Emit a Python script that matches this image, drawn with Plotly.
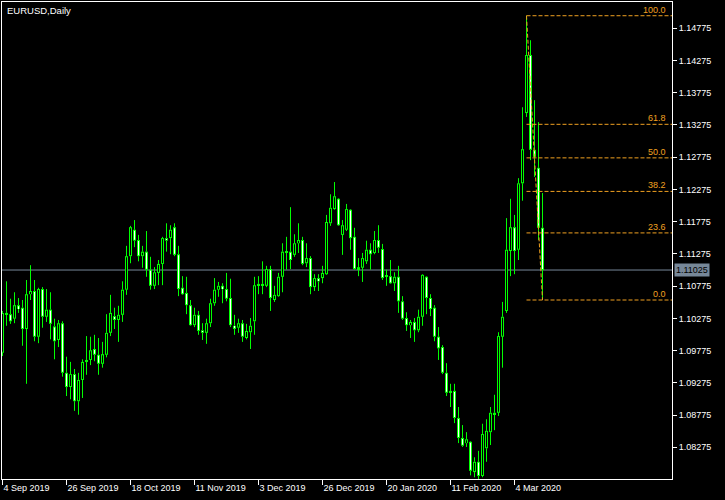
import plotly.graph_objects as go

# ---- data (EURUSD daily) ----
opens = [1.0974,1.1036,1.1034,1.1027,1.1048,1.1044,1.1011,1.1065,1.1070,1.0999,
         1.1073,1.1030,1.1041,1.1015,1.0994,1.1020,1.0943,1.0921,1.0941,1.0899,
         1.0932,1.0960,1.0963,1.0980,1.0971,1.0957,1.0971,1.1005,1.1031,1.1025,
         1.1033,1.1072,1.1124,1.1165,1.1149,1.1124,1.1131,1.1103,1.1078,1.1098,
         1.1112,1.1152,1.1152,1.1169,1.1127,1.1075,1.1067,1.1048,1.1017,1.1033,
         1.1009,1.1005,1.1020,1.1051,1.1072,1.1078,1.1073,1.1059,1.1016,1.1013,
         1.1020,1.0997,1.1006,1.1023,1.1079,1.1081,1.1078,1.1104,1.1056,1.1062,
         1.1092,1.1131,1.1131,1.1126,1.1144,1.1149,1.1113,1.1121,1.1076,1.1090,
         1.1090,1.1096,1.1175,1.1197,1.1213,1.1157,1.1165,1.1196,1.1154,1.1104,
         1.1106,1.1116,1.1134,1.1129,1.1149,1.1135,1.1092,1.1093,1.1082,1.1092,
         1.1054,1.1028,1.1017,1.1022,1.1009,1.1030,1.1092,1.1059,1.1044,1.0999,
         1.0983,1.0943,1.0912,1.0915,1.0873,1.0842,1.0834,1.0836,1.0789,1.0805,
         1.0783,1.0826,1.0851,1.0881,1.0881,1.0999,1.1039,1.1132,1.1169,1.1134,
         1.1237,1.1346,1.1436,1.1289,1.1261,1.1168]
highs = [1.1039,1.1085,1.1058,1.1068,1.1059,1.1056,1.1087,1.1110,1.1087,1.1075,
         1.1076,1.1073,1.1068,1.1027,1.1025,1.1023,1.0968,1.0960,1.0949,1.0943,
         1.0964,1.1000,1.0999,1.1002,1.0997,1.0991,1.1034,1.1064,1.1044,1.1047,
         1.1085,1.1140,1.1171,1.1180,1.1157,1.1140,1.1163,1.1123,1.1107,1.1118,
         1.1154,1.1175,1.1172,1.1175,1.1140,1.1093,1.1092,1.1056,1.1044,1.1039,
         1.1020,1.1027,1.1058,1.1090,1.1084,1.1082,1.1098,1.1089,1.1033,1.1027,
         1.1025,1.1019,1.1028,1.1092,1.1093,1.1116,1.1109,1.1109,1.1078,1.1098,
         1.1144,1.1154,1.1200,1.1158,1.1175,1.1154,1.1144,1.1124,1.1096,1.1096,
         1.1109,1.1188,1.1220,1.1239,1.1214,1.1180,1.1205,1.1197,1.1168,1.1121,
         1.1129,1.1148,1.1144,1.1163,1.1172,1.1143,1.1103,1.1118,1.1099,1.1109,
         1.1062,1.1037,1.1025,1.1028,1.1041,1.1096,1.1093,1.1065,1.1048,1.1014,
         1.0986,1.0958,1.0926,1.0926,1.0890,1.0862,1.0851,1.0837,1.0812,1.0822,
         1.0864,1.0871,1.0890,1.0909,1.1006,1.1053,1.1183,1.1213,1.1188,1.1245,
         1.1355,1.1497,1.1459,1.1366,1.1332,1.1222]
lows = [1.0969,1.1016,1.1019,1.1020,1.1036,1.0985,1.0926,1.1056,1.0992,1.0989,
        1.1013,1.1022,1.0995,1.0964,1.0983,1.0937,1.0907,1.0902,1.0884,1.0878,
        1.0904,1.0940,1.0955,1.0961,1.0940,1.0951,1.0967,1.1000,1.1011,1.0991,
        1.1022,1.1064,1.1113,1.1138,1.1116,1.1106,1.1092,1.1072,1.1073,1.1079,
        1.1079,1.1131,1.1127,1.1124,1.1062,1.1064,1.1034,1.1016,1.1014,1.1002,
        1.0994,1.0988,1.1014,1.1047,1.1061,1.1051,1.1054,1.1014,1.1002,1.1005,
        1.0991,1.0995,1.0980,1.1002,1.1065,1.1065,1.1076,1.1039,1.1053,1.1061,
        1.1068,1.1103,1.1104,1.1123,1.1129,1.1110,1.1107,1.1065,1.1070,1.1070,
        1.1082,1.1095,1.1171,1.1196,1.1171,1.1126,1.1163,1.1134,1.1103,1.1093,
        1.1084,1.1112,1.1103,1.1127,1.1129,1.1087,1.1078,1.1081,1.1070,1.1036,
        1.1025,1.1008,1.0997,1.0991,1.1006,1.1016,1.1034,1.1031,1.0992,1.0963,
        1.0941,1.0907,1.0890,1.0865,1.0834,1.0828,1.0828,1.0784,1.0781,1.0778,
        1.0781,1.0805,1.0831,1.0854,1.0876,1.0951,1.1036,1.1093,1.1096,1.1118,
        1.1210,1.1340,1.1273,1.1247,1.1149,1.1056]
closes = [1.1036,1.1033,1.1023,1.1048,1.1042,1.1011,1.1065,1.1070,1.0999,1.1073,
          1.1030,1.1041,1.1019,1.0992,1.1020,1.0943,1.0921,1.0941,1.0899,1.0932,
          1.0960,1.0963,1.0978,1.0971,1.0957,1.0972,1.1005,1.1036,1.1025,1.1033,
          1.1072,1.1124,1.1169,1.1148,1.1124,1.1131,1.1103,1.1078,1.1099,1.1112,
          1.1152,1.1148,1.1165,1.1126,1.1073,1.1065,1.1048,1.1017,1.1033,1.1008,
          1.1005,1.1020,1.1051,1.1072,1.1078,1.1073,1.1058,1.1017,1.1011,1.1020,
          1.0999,1.1008,1.1016,1.1079,1.1081,1.1078,1.1104,1.1059,1.1064,1.1092,
          1.1131,1.1129,1.1118,1.1144,1.1149,1.1112,1.1121,1.1076,1.1090,1.1085,
          1.1098,1.1177,1.1199,1.1217,1.1172,1.1172,1.1197,1.1152,1.1104,1.1107,
          1.1121,1.1134,1.1127,1.1149,1.1137,1.1090,1.1093,1.1082,1.1092,1.1054,
          1.1027,1.1017,1.1022,1.1009,1.1030,1.1095,1.1059,1.1042,1.0999,1.0981,
          1.0943,1.0912,1.0915,1.0873,1.0842,1.0830,1.0840,1.0791,1.0805,1.0783,
          1.0848,1.0853,1.0881,1.0879,1.1000,1.1030,1.1134,1.1169,1.1132,1.1237,
          1.1290,1.1436,1.1289,1.1278,1.1168,1.11025]

date_tick_index = [0, 16, 32, 48, 64, 80, 96, 112, 128]
date_tick_labels = ["4 Sep 2019", "26 Sep 2019", "18 Oct 2019", "11 Nov 2019", "3 Dec 2019",
                    "26 Dec 2019", "20 Jan 2020", "11 Feb 2020", "4 Mar 2020"]
price_ticks = [1.08275, 1.08775, 1.09275, 1.09775, 1.10275, 1.10775, 1.11275,
               1.11775, 1.12275, 1.12775, 1.13275, 1.13775, 1.14275, 1.14775]
current_price = 1.11025

fib_start_index = 131
fib_end_index = 135
fib_high = 1.1497
fib_low = 1.1056
fib_levels = [0.0, 23.6, 38.2, 50.0, 61.8, 100.0]

# ---- styling ----
GREEN = "#00FF00"
ORANGE = "#F0A020"
GRAY = "#778899"
FONT = "Liberation Sans, Arial, sans-serif"

n = len(opens)
x_idx = list(range(n))
x_min, x_max = -0.125, 167.375
y_min, y_max = 1.07783, 1.15183
PLOT_H = 477
px = (y_max - y_min) / PLOT_H  # one screen pixel in price units

body_lo = [min(o, c) for o, c in zip(opens, closes)]
body_hi = [max(o, c) for o, c in zip(opens, closes)]

fig = go.Figure()

# body outlines (green, 3px wide)
fig.add_trace(go.Bar(x=x_idx, y=[max(h - l, px) for h, l in zip(body_hi, body_lo)],
                     base=body_lo, width=0.75, marker=dict(color=GREEN, line=dict(width=0)),
                     hoverinfo="skip", showlegend=False))

# body interiors: bullish = black, bearish = white
for is_bull, fill in ((True, "#000000"), (False, "#FFFFFF")):
    bx, bbase, bh = [], [], []
    for i in x_idx:
        if (closes[i] >= opens[i]) == is_bull:
            h = body_hi[i] - body_lo[i] - 2 * px
            if h > 0:
                bx.append(i)
                bbase.append(body_lo[i] + px)
                bh.append(h)
    fig.add_trace(go.Bar(x=bx, y=bh, base=bbase, width=0.25,
                         marker=dict(color=fill, line=dict(width=0)),
                         hoverinfo="skip", showlegend=False))

# wicks: upper (high -> body top) and lower (body bottom -> low)
wx, wy = [], []
for i in x_idx:
    wx += [i, i, None, i, i, None]
    wy += [highs[i], body_hi[i], None, body_lo[i], lows[i], None]
fig.add_trace(go.Scatter(x=wx, y=wy, mode="lines", line=dict(color=GREEN, width=1),
                         hoverinfo="skip", showlegend=False, connectgaps=False))

shapes = []
shapes.append(dict(type="line", xref="paper", x0=0, x1=1, yref="y",
                   y0=current_price, y1=current_price,
                   line=dict(color=GRAY, width=1), layer="below"))
annotations = []
for lvl in fib_levels:
    price = fib_low + (fib_high - fib_low) * lvl / 100.0
    shapes.append(dict(type="line", xref="x", x0=fib_start_index, x1=x_max,
                       yref="y", y0=price, y1=price,
                       line=dict(color=ORANGE, width=1, dash="4px,2px")))
    annotations.append(dict(xref="paper", x=1, xanchor="right", xshift=-4,
                            yref="y", y=price, yanchor="bottom", yshift=-1,
                            text=f"{lvl:.1f}", showarrow=False,
                            font=dict(color=ORANGE, size=9, family=FONT)))
shapes.append(dict(type="line", xref="x", yref="y",
                   x0=fib_start_index, y0=fib_high, x1=fib_end_index, y1=fib_low,
                   line=dict(color=ORANGE, width=1, dash="4px,2px")))

annotations.append(dict(xref="paper", yref="paper", x=0, y=1, xanchor="left", yanchor="top",
                        xshift=3, yshift=-1, text="EURUSD,Daily", showarrow=False,
                        font=dict(color="white", size=9.5, family=FONT)))
annotations.append(dict(xref="paper", x=1, xanchor="left", xshift=2, yref="y",
                        y=current_price, yanchor="middle", text=f"{current_price:.5f}",
                        showarrow=False, bgcolor=GRAY, borderpad=1,
                        font=dict(color="black", size=9, family=FONT)))

fig.update_layout(
    width=725, height=500,
    margin=dict(l=2, r=53, t=2, b=21),
    paper_bgcolor="black", plot_bgcolor="black",
    barmode="overlay",
    shapes=shapes, annotations=annotations,
    font=dict(family=FONT, color="white", size=9),
    xaxis=dict(range=[x_min, x_max],
               showgrid=False, zeroline=False,
               showline=True, mirror=True, linecolor="white", linewidth=1,
               ticks="outside", ticklen=5, tickcolor="white", tickwidth=1,
               tickvals=date_tick_index, ticktext=date_tick_labels,
               ticklabelposition="outside right",
               tickfont=dict(color="white", size=9, family=FONT)),
    yaxis=dict(range=[y_min, y_max], side="right",
               showgrid=False, zeroline=False,
               showline=True, mirror=True, linecolor="white", linewidth=1,
               ticks="outside", ticklen=4, tickcolor="white", tickwidth=1,
               tickvals=price_ticks, ticktext=[f"{v:.5f}" for v in price_ticks],
               tickfont=dict(color="white", size=9, family=FONT)),
)

fig.write_html("out.html", config={"displayModeBar": False},
               post_script="document.body.style.margin='0';document.body.style.background='black';")
